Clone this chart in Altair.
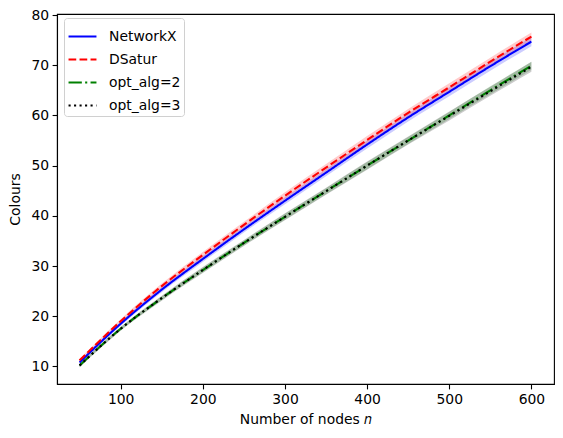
import altair as alt
import pandas as pd

nodes = [50, 100, 150, 200, 250, 300, 350, 400, 450, 500, 550, 600]
series_names = ["NetworkX", "DSatur", "opt_alg=2", "opt_alg=3"]
networkx = [10.8, 18.5, 25.3, 31.4, 37.3, 43.0, 48.6, 54.2, 59.6, 64.7, 69.8, 74.7]
dsatur = [11.2, 19.0, 26.0, 32.2, 38.2, 44.0, 49.6, 55.1, 60.5, 65.6, 70.7, 75.7]
opt2 = [10.2, 17.5, 23.6, 29.2, 34.6, 39.8, 44.9, 50.0, 55.0, 60.0, 65.0, 69.9]
opt3 = [10.2, 17.5, 23.6, 29.2, 34.6, 39.8, 44.9, 50.0, 55.0, 59.9, 64.8, 69.7]
spread_networkx = [0.3, 0.4, 0.5, 0.6, 0.6, 0.7, 0.7, 0.8, 0.8, 0.9, 0.9, 0.9]
spread_dsatur = [0.3, 0.4, 0.5, 0.6, 0.6, 0.7, 0.7, 0.8, 0.8, 0.8, 0.8, 0.8]
spread_opt2 = [0.3, 0.3, 0.4, 0.5, 0.5, 0.6, 0.6, 0.7, 0.7, 0.7, 0.8, 0.8]
spread_opt3 = [0.4, 0.4, 0.5, 0.6, 0.6, 0.7, 0.7, 0.8, 0.8, 0.9, 0.9, 1.0]

colors = ["#0000ff", "#ff0000", "#008000", "#000000"]
dashes = [[1, 0], [7.7, 3.3], [13.3, 3.3, 2.1, 3.3], [2.1, 3.4]]

rows = []
for name, vals, spr in zip(series_names,
                           [networkx, dsatur, opt2, opt3],
                           [spread_networkx, spread_dsatur, spread_opt2, spread_opt3]):
    for n, v, s in zip(nodes, vals, spr):
        rows.append({"n": n, "series": name, "band": name, "value": v, "lo": v - s, "hi": v + s})
df = pd.DataFrame(rows)

xscale = alt.Scale(domain=[22.5, 627.5], nice=False, zero=False)
yscale = alt.Scale(domain=[6.5, 80.2], nice=False, zero=False)

xaxis = alt.Axis(title="Number of nodes 𝑛", values=[100, 200, 300, 400, 500, 600],
                 grid=False, titlePadding=6)
yaxis = alt.Axis(title="Colours", values=[10, 20, 30, 40, 50, 60, 70, 80],
                 grid=False, titlePadding=8)

leg = alt.Legend(title=None, orient="none", legendX=7, legendY=4,
                 symbolType="stroke", symbolSize=780, symbolStrokeWidth=2.08,
                 labelFontSize=13.9, labelFont="DejaVu Sans", labelColor="black",
                 fillColor="white", strokeColor="#d0d0d0",
                 cornerRadius=3, padding=3, rowPadding=-2, labelOffset=11)

bands = alt.Chart(df).mark_area(opacity=0.2, interpolate="monotone").encode(
    x=alt.X("n:Q", scale=xscale, axis=xaxis),
    y=alt.Y("lo:Q", scale=yscale, axis=yaxis),
    y2="hi:Q",
    fill=alt.Fill("band:N", scale=alt.Scale(domain=series_names, range=colors), legend=None),
    detail="band:N",
)

lines = alt.Chart(df).mark_line(strokeWidth=2.08, interpolate="monotone").encode(
    x=alt.X("n:Q", scale=xscale),
    y=alt.Y("value:Q", scale=yscale),
    color=alt.Color("series:N", scale=alt.Scale(domain=series_names, range=colors), legend=leg),
    strokeDash=alt.StrokeDash("series:N", scale=alt.Scale(domain=series_names, range=dashes),
                              legend=leg),
)

chart = alt.layer(bands, lines).resolve_scale(fill="independent").properties(
    width=497, height=370,
    autosize=alt.AutoSizeParams(type="none"),
    padding={"left": 57, "top": 14, "right": 9, "bottom": 54},
    background="white",
).configure_view(
    stroke="black", strokeWidth=1.1
).configure_axis(
    domainColor="black", domainWidth=1.1, tickColor="black", tickWidth=1.1, tickSize=4.9,
    labelFont="DejaVu Sans", labelFontSize=13.9, labelColor="black", labelPadding=3.5,
    titleFont="DejaVu Sans", titleFontSize=13.9, titleColor="black", titleFontWeight="normal",
)

chart.save("out.html", embed_options={"renderer": "svg", "actions": False})
